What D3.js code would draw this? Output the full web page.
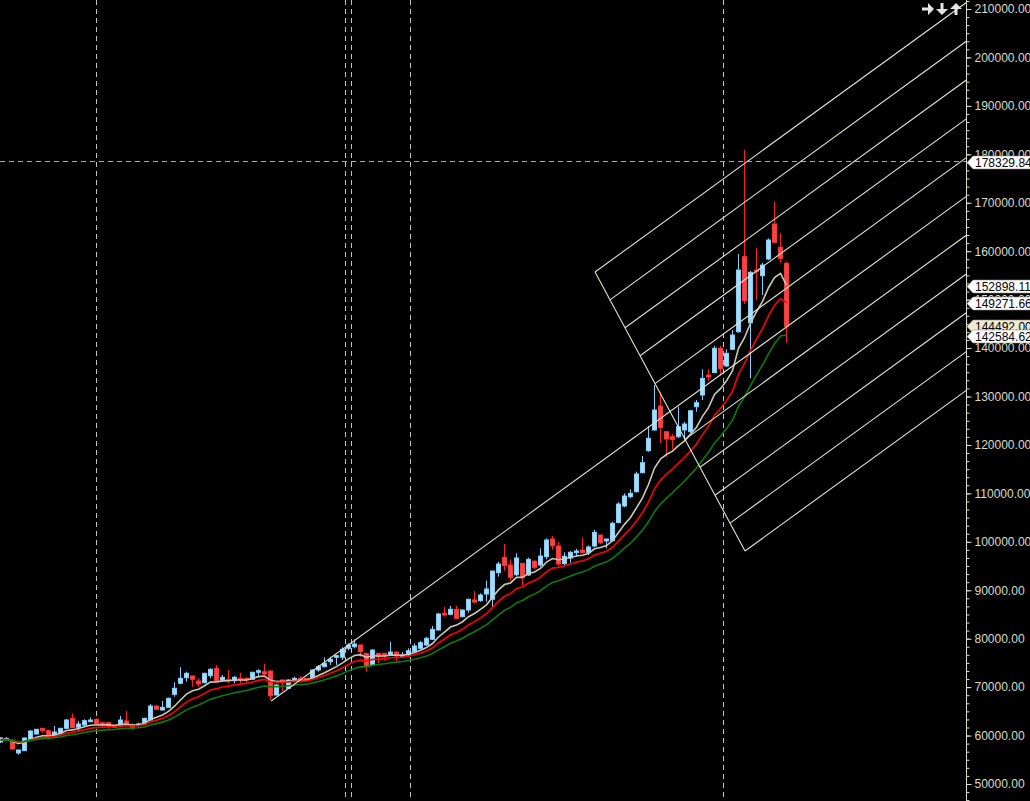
<!DOCTYPE html>
<html>
<head>
<meta charset="utf-8">
<script src="https://cdn.jsdelivr.net/npm/d3@7"></script>
<style>
html, body { margin: 0; padding: 0; background: #000; overflow: hidden; }
svg { display: block; }
</style>
</head>
<body>
<div id="chart"></div>
<script>
// bar data, oldest first
var opens = [58670,58980,59080,56400,56870,59080,60320,61500,61000,59760,
  60470,61500,63560,61710,62180,62860,63360,62650,62650,62120,
  61970,63010,62240,62080,62390,63210,66100,65280,65830,68520,
  70790,71940,72300,71260,70910,72360,73890,71470,71610,71330,
  71820,71820,71610,73060,73180,73330,68370,71470,69760,71470,
  71820,71820,71820,73530,74220,75250,76160,76160,78010,78340,
  78700,76980,74570,76980,76980,76630,77250,76280,76630,77310,
  78010,78700,79870,81790,85240,85030,86070,84540,85920,87990,
  87850,89220,88130,93620,96800,95210,93210,95560,93150,95970,
  95210,96920,100580,99130,95480,96660,97750,98310,97750,99130,
  101400,100170,100230,103980,107390,109310,110340,114270,118810,123080,
  128030,122730,121700,121700,123080,122730,127890,130300,134430,134950,
  139950,136290,139740,143370,158860,145230,156110,154930,158380,165610,
  160800,157490];
var highs = [59700,59700,59150,57120,59600,61150,61350,61560,61150,61970,
  61560,63420,64600,63010,63360,63770,63560,62860,62700,62180,
  64040,65070,62530,62650,63690,66520,66250,67130,67820,71000,
  74090,73180,72440,71820,72980,73890,74570,72500,73530,72300,
  72980,72030,73180,73680,74830,73400,70500,71610,71610,72150,
  72300,71940,73680,74570,76160,76280,76630,78220,79050,79870,
  78750,77000,77810,77000,77040,79380,77280,77250,78010,79050,
  79520,80410,82620,85360,86600,86750,86750,86070,88250,89840,
  89370,91970,94000,95890,99550,96390,97630,95600,96720,96240,
  98660,100720,101200,99960,97830,98100,98510,100850,99280,102440,
  101450,100600,104150,108150,110010,110840,114470,117710,123910,132370,
  130990,122750,122250,127890,124790,127210,129270,135610,135610,140480,
  140480,139740,143720,159410,180880,155900,160590,157620,162650,170210,
  163690,157820];
var lows = [58460,58880,57020,56050,56810,58940,60220,60590,59760,59700,
  60430,61350,61560,61000,61830,62800,62180,61830,61420,61620,
  61830,62120,61150,61830,62240,63070,65280,65130,65750,68020,
  70580,71120,70090,70090,70790,71820,71200,71120,70790,70790,
  70790,70790,71470,72150,72500,67340,68310,69200,69680,71120,
  70910,71120,71470,73180,74090,74570,74570,75600,77660,78010,
  76280,73180,74420,74920,75450,76420,75450,76160,76280,76980,
  77810,78490,79730,81650,84540,84830,84000,84410,85360,87300,
  87630,87630,86600,92800,94030,91970,92940,90940,92940,94390,
  94860,96390,98370,94860,95210,95690,96920,97630,97280,98860,
  99550,98660,100020,103820,107120,108980,110140,114140,118600,122940,
  120400,117570,119160,121370,121080,122520,126860,129270,133260,134790,
  134330,136150,139600,143170,149090,133750,149920,150950,158170,161620,
  157620,141100];
var closes = [59500,59390,57230,57020,59500,60940,61290,61000,59910,60730,
  61500,63210,61620,62390,63070,63210,62390,62390,62120,61710,
  63210,62180,61710,62390,63560,66100,65420,65830,67690,69760,
  71820,72850,71610,70640,72850,73680,71260,72030,71330,72030,
  71470,71470,73060,73390,72710,68230,70440,71120,71470,71820,
  71470,71470,73530,74220,74920,75740,76490,77810,78700,78900,
  77310,74220,77660,76280,76420,77250,76420,76630,77520,78490,
  79170,80080,81940,85100,84890,86070,84210,85920,88130,87570,
  89020,90260,93970,95420,95070,92670,96660,92670,96390,94740,
  97070,100370,99200,95420,97010,97830,98100,97750,98930,101960,
  99810,100580,103820,107800,109460,110010,114000,116330,121370,127210,
  123640,121220,121160,123760,124320,127060,128720,133750,134020,139950,
  135780,138910,142690,156110,149770,155640,155760,157140,162300,161830,
  158530,144492];

// moving averages: period, starting value, colour
var maPeriods = [8, 13, 21];
var maSeeds = [59100, 59100, 59000];
var maColors = ["#c9c9b6", "#ff0000", "#0b7d0b"];

var yTicks = d3.range(50000, 210001, 10000);
var priceTags = [178329.84, 152898.11, 149271.66, 144492.00, 142584.62];
var lastPrice = 144492.00;
var crossPrice = 178329.84;
var dividerBars = [16, 57.5, 58.5, 68.4, 120.5];

// channel tool: base segment (bar, price), start of the extended middle line
var channelBase = [[99.17, 155700], [124.17, 98100]];
var trendStart = [45.2, 67130];
var channelCount = 11;

var W = 1030, H = 801, plotRight = 966;

var svg = d3.select("#chart").append("svg")
  .attr("width", W).attr("height", H)
  .style("background", "#000");

svg.append("defs").append("clipPath").attr("id", "plot")
  .append("rect").attr("x", 0).attr("y", 0).attr("width", plotRight).attr("height", H);

var x = d3.scaleLinear().domain([0, 131]).range([0, 786]);
var y = d3.scaleLinear().domain([50000, 210000]).range([784, 9]);

var plot = svg.append("g").attr("clip-path", "url(#plot)");

// vertical separators
plot.selectAll("line.div").data(dividerBars).enter().append("line")
  .attr("x1", d => Math.floor(x(d)) + 0.5).attr("x2", d => Math.floor(x(d)) + 0.5)
  .attr("y1", 0).attr("y2", H)
  .attr("stroke", "#c4c4c4").attr("stroke-width", 1)
  .attr("stroke-dasharray", "5,4");

// crosshair
plot.append("line")
  .attr("x1", 0).attr("x2", plotRight)
  .attr("y1", Math.floor(y(crossPrice)) - 0.5).attr("y2", Math.floor(y(crossPrice)) - 0.5)
  .attr("stroke", "#a8a8a8").attr("stroke-dasharray", "5,4");

// candles
var bars = closes.map((c, i) => ({ i: i, o: opens[i], h: highs[i], l: lows[i], c: c }));
var cg = plot.append("g");
bars.forEach(function (d) {
  var up = d.c >= d.o;
  var cx = Math.round(x(d.i)) + 0.5;
  cg.append("line")
    .attr("x1", cx).attr("x2", cx)
    .attr("y1", y(d.h)).attr("y2", y(d.l))
    .attr("stroke", up ? "#87cefa" : "#ff2020").attr("stroke-width", 1);
  var top = y(Math.max(d.o, d.c)), bot = y(Math.min(d.o, d.c));
  cg.append("rect")
    .attr("x", cx - 2).attr("y", top)
    .attr("width", 4).attr("height", Math.max(1, bot - top))
    .attr("fill", up ? "#a9dcef" : "#e64a4e")
    .attr("stroke", up ? "#87cefa" : "#ff3434").attr("stroke-width", 1);
});

// moving averages
function ema(values, period, seed) {
  var a = 2 / (period + 1), prev = seed;
  return values.map(function (v) { prev = prev + a * (v - prev); return prev; });
}
var line = d3.line().x((d, i) => x(i) + 0.5).y(d => y(d));
maPeriods.forEach(function (p, k) {
  plot.append("path")
    .datum(ema(closes, p, maSeeds[k]))
    .attr("d", line)
    .attr("fill", "none")
    .attr("stroke", maColors[k])
    .attr("stroke-width", 1.6);
});

// channel lines
var mid = [
  channelBase[0][0] + (channelBase[1][0] - channelBase[0][0]) / 2,
  channelBase[0][1] + (channelBase[1][1] - channelBase[0][1]) / 2
];
var slope = (mid[1] - trendStart[1]) / (mid[0] - trendStart[0]);
var farBar = 175;
var chg = plot.append("g").attr("stroke", "#e2e2d2").attr("stroke-width", 1.1).attr("fill", "none");
chg.append("line")
  .attr("x1", x(channelBase[0][0])).attr("y1", y(channelBase[0][1]))
  .attr("x2", x(channelBase[1][0])).attr("y2", y(channelBase[1][1]));
d3.range(channelCount).forEach(function (k) {
  var t = k / (channelCount - 1);
  var b0 = channelBase[0][0] + (channelBase[1][0] - channelBase[0][0]) * t;
  var p0 = channelBase[0][1] + (channelBase[1][1] - channelBase[0][1]) * t;
  if (k === (channelCount - 1) / 2) { b0 = trendStart[0]; p0 = trendStart[1]; }
  chg.append("line")
    .attr("x1", x(b0)).attr("y1", y(p0))
    .attr("x2", x(farBar)).attr("y2", y(p0 + slope * (farBar - b0)));
});

// right price axis
var axisColor = "#dcdcc6";
var axisG = svg.append("g").attr("transform", "translate(" + (plotRight + 0.5) + ",0)");
var minor = [];
for (var v = 50000 - 10000 / 6 * 2; v <= 212000; v += 10000 / 6) minor.push(v);
axisG.call(d3.axisRight(y).tickValues(minor).tickSize(3).tickFormat(""));
axisG.append("g").call(d3.axisRight(y).tickValues(yTicks).tickSize(5).tickPadding(3)
  .tickFormat(d => d.toFixed(2)));
axisG.selectAll("path.domain").attr("stroke", axisColor).attr("d", "M0,0V" + H);
axisG.selectAll("line").attr("stroke", axisColor);
axisG.selectAll("text")
  .attr("fill", axisColor)
  .style("font-family", "'Liberation Sans', Arial, sans-serif")
  .style("font-size", "12px");

// price tags
var tags = svg.append("g");
priceTags.forEach(function (p) {
  var cy = Math.round(y(p)) + 0.5;
  tags.append("path")
    .attr("d", "M" + (plotRight + 1) + "," + cy + "L" + (plotRight + 7) + "," + (cy - 6.5) +
      "H1040V" + (cy + 6.5) + "H" + (plotRight + 7) + "Z")
    .attr("fill", p === lastPrice ? "#efebd3" : "#ffffff")
    .attr("stroke", "#8c8c80").attr("stroke-width", 0.6);
  tags.append("text")
    .attr("x", plotRight + 9).attr("y", cy).attr("dy", "0.35em")
    .attr("fill", "#000")
    .style("font-family", "'Liberation Sans', Arial, sans-serif")
    .style("font-size", "12px")
    .text(p.toFixed(2));
});

// scroll buttons
var icons = svg.append("g").attr("fill", "#e4e4e4");
icons.append("path").attr("d", "M922,7.5H928V3L934,9L928,15V10.5H922Z");
icons.append("path").attr("d", "M940.5,3H943.5V9H948L942,15L936,9H940.5Z");
icons.append("path").attr("d", "M954.5,15H957.5V9H962L956,3L950,9H954.5Z");
</script>
</body>
</html>
